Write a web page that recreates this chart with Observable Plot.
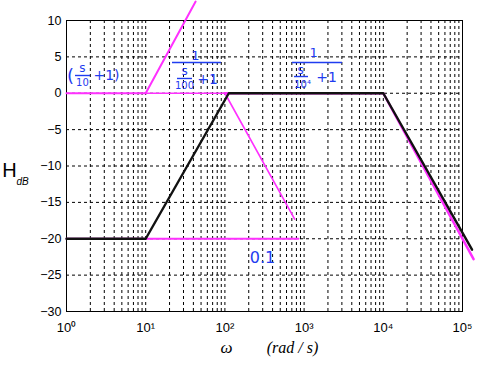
<!DOCTYPE html>
<html>
<head>
<meta charset="utf-8">
<script src="https://cdn.jsdelivr.net/npm/d3@7"></script>
<script src="https://cdn.jsdelivr.net/npm/@observablehq/plot@0.6"></script>
<style>
  html, body { margin: 0; padding: 0; background: #fff; }
  #chart svg { display: block; }
</style>
</head>
<body>
<div id="chart"></div>
<script>
// ---- tick values / labels ----
const xTicks = [1, 10, 100, 1000, 10000, 100000];
const xTickLabels = ["10\u2070", "10\u00B9", "10\u00B2", "10\u00B3", "10\u2074", "10\u2075"];
const yTicks = [-30, -25, -20, -15, -10, -5, 0, 5, 10];
const minorMultipliers = [1, 2, 3, 4, 5, 6, 7, 8, 9];
const decades = [1, 10, 100, 1000, 10000];

// ---- series (omega in rad/s, H in dB) ----
const totalOmega = [1, 10, 112, 10000, 132000];
const totalDb    = [-20, -20, 0, 0, -21.5];

const zeroOmega = [1, 10, 42.7];          // (s/10 + 1)
const zeroDb    = [0, 0, 12.6];

const pole1Omega = [10, 100, 760];        // 1/(s/10^2 + 1)
const pole1Db    = [0, 0, -17.3];

const pole2Omega = [100, 10000, 138000];  // 1/(s/10^4 + 1)
const pole2Db    = [0, 0, -22.8];

const gainOmega = [1, 850];               // 0.1
const gainDb    = [-20, -20];

// ---- handwritten annotations (data coordinates) ----
const noteLabels = ["(", "s", "10", "+1)", "1", "s", "100", "+1", "1", "s", "10\u2074", "+1", "0.1"];
const noteOmega  = [1.12, 1.59, 1.59, 3.2, 42.5, 30.9, 30.9, 60.4, 1315, 901, 955, 1919, 298];
const noteDb     = [2.3, 3.4, 1.4, 2.44, 5.2, 3.1, 1.0, 1.9, 5.6, 3.2, 1.1, 2.16, -22.6];
const noteSize   = [18, 12, 10, 14, 13, 12, 10, 14, 13, 12, 10, 14, 16];

const barOmega1 = [1.30, 21.8, 25.2, 714, 757];
const barOmega2 = [2.01, 90.6, 39, 3055, 1137];
const barDb     = [2.44, 4.23, 2.03, 4.23, 2.3];

const toPts = (xs, ys) => xs.map((x, i) => ({x, y: ys[i]}));
const gridX = decades.flatMap(d => minorMultipliers.map(m => d * m)).filter(v => v > 1 && v < 100000);
const gridY = yTicks.filter(v => v > -30 && v < 10);
const notes = noteLabels.map((t, i) => ({t, x: noteOmega[i], y: noteDb[i], s: noteSize[i]}));
const bars = barDb.map((y, i) => ({x1: barOmega1[i], x2: barOmega2[i], y}));

const blue = "#1f3cf0";
const mag = "#ff30ff";

const chart = Plot.plot({
  width: 493,
  height: 373,
  marginLeft: 66,
  marginRight: 31,
  marginTop: 20,
  marginBottom: 62,
  style: {fontFamily: "'Liberation Sans', Arial, sans-serif", fontSize: "12px", color: "#000", overflow: "visible"},
  x: {type: "log", domain: [1, 100000]},
  y: {domain: [-30, 10]},
  marks: [
    Plot.ruleX(gridX, {stroke: "#000", strokeWidth: 1, strokeDasharray: "3,3"}),
    Plot.ruleY(gridY, {stroke: "#000", strokeWidth: 1, strokeDasharray: "3,3"}),
    Plot.frame({stroke: "#000", strokeWidth: 1}),
    Plot.axisX(xTicks, {tickSize: 0, tickPadding: 11, tickFormat: (d) => xTickLabels[xTicks.indexOf(d)], fontSize: 13, label: null}),
    Plot.axisY(yTicks, {tickSize: 0, tickPadding: 5, fontSize: 12.5, label: null}),
    // magenta asymptotes
    Plot.line(toPts(gainOmega, gainDb), {x: "x", y: "y", stroke: mag, strokeWidth: 2}),
    Plot.line(toPts(zeroOmega, zeroDb), {x: "x", y: "y", stroke: mag, strokeWidth: 2}),
    Plot.line(toPts(pole1Omega, pole1Db), {x: "x", y: "y", stroke: mag, strokeWidth: 1.6}),
    Plot.line(toPts(pole2Omega, pole2Db), {x: "x", y: "y", stroke: mag, strokeWidth: 2.5}),
    // total response
    Plot.line(toPts(totalOmega, totalDb), {x: "x", y: "y", stroke: "#111", strokeWidth: 2.4}),
    // annotations
    Plot.ruleY(bars, {x1: "x1", x2: "x2", y: "y", stroke: blue, strokeWidth: 1.4}),
    Plot.text(notes, {x: "x", y: "y", text: "t", fontSize: "s", fill: blue, fontFamily: "'DejaVu Sans', sans-serif"}),
    // axis titles
    Plot.text(["H"], {frameAnchor: "left", y: -10.6, dx: -57, fontSize: 20, fill: "#000", textAnchor: "middle"}),
    Plot.text(["dB"], {frameAnchor: "left", y: -12.2, dx: -44, fontSize: 10, fontStyle: "italic", fill: "#000", textAnchor: "middle"}),
    Plot.text(["\u03C9"], {x: 105, frameAnchor: "bottom", dy: 41, fontSize: 17, fontStyle: "italic", fontFamily: "'Liberation Serif', serif", fill: "#000"}),
    Plot.text(["(rad / s)"], {x: 713, frameAnchor: "bottom", dy: 41, fontSize: 16, fontStyle: "italic", fontFamily: "'Liberation Serif', serif", fill: "#000"})
  ]
});
document.getElementById("chart").appendChild(chart);
</script>
</body>
</html>
